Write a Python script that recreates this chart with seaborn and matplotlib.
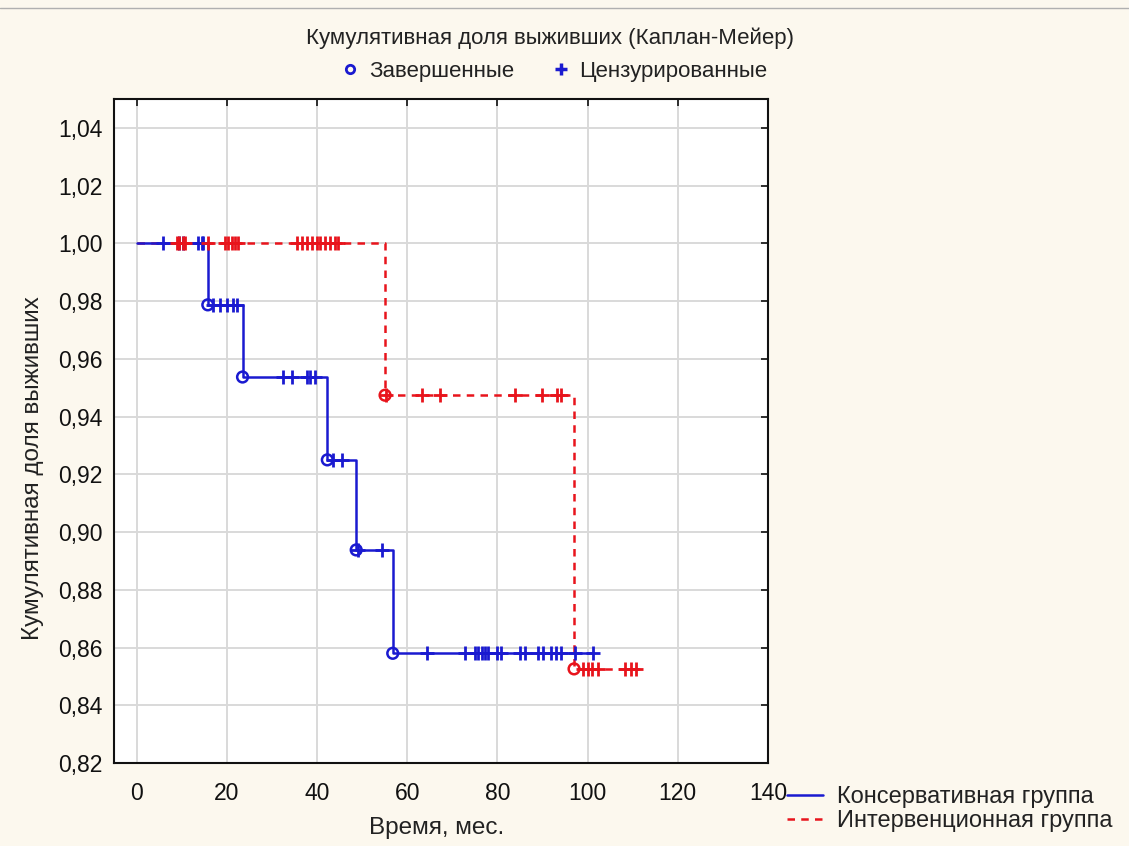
import matplotlib
matplotlib.use("Agg")
import matplotlib.pyplot as plt
from matplotlib.lines import Line2D
from matplotlib.ticker import FuncFormatter, MultipleLocator
import numpy as np
import seaborn as sns

# DATA (months, cumulative survival)
blue_event_t = [15.8, 23.5, 42.3, 48.7, 56.8]
blue_event_s = [0.9787, 0.9537, 0.9250, 0.8938, 0.8580]
blue_end = 101.3
blue_cens = [5.9, 9.5, 10.2, 13.6, 14.4, 14.7, 16.9, 18.4, 20.0, 21.3, 22.2,
             32.4, 34.4, 37.8, 38.4, 39.6, 43.6, 45.6, 49.0, 54.4, 64.4,
             72.9, 75.1, 75.8, 76.7, 77.3, 78.0, 80.0, 80.7, 85.1, 86.2,
             89.1, 90.2, 91.8, 92.9, 94.0, 97.3, 101.3]

red_event_t = [55.1, 97.0]
red_event_s = [0.9474, 0.8526]
red_end = 111.8
red_cens = [8.9, 9.5, 10.2, 10.7, 15.8, 19.6, 20.2, 21.1, 21.8, 22.4,
            35.6, 36.7, 37.8, 38.9, 40.0, 40.7, 41.8, 42.9, 44.0, 44.7,
            55.3, 63.3, 67.3, 84.0, 90.0, 93.3, 94.0,
            98.9, 100.0, 101.0, 102.2, 108.4, 109.6, 110.7]

group_names = ["Консервативная группа", "Интервенционная группа"]
title = "Кумулятивная доля выживших (Каплан-Мейер)"
marker_names = ["Завершенные", "Цензурированные"]

BLUE = "#1a1ad0"
RED = "#e8141c"
BG = "#fcf8ee"

sns.set_style("white")
plt.rcParams["font.family"] = ["Liberation Sans", "DejaVu Sans"]


def step_xy(ev_t, ev_s, end):
    xs = [0.0] + list(ev_t) + [end]
    ys = [1.0] + list(ev_s) + [ev_s[-1]]
    return xs, ys


def surv_at(t, ev_t, ev_s):
    levels = np.r_[1.0, ev_s]
    return levels[np.searchsorted(ev_t, t, side="right")]


fig = plt.figure(figsize=(11.29, 8.46), dpi=100, facecolor=BG)
ax = fig.add_axes([114 / 1129, 1 - 763 / 846, (768 - 114) / 1129, (763 - 99) / 846])
ax.set_facecolor("white")

#STEP LINES
rx, ry = step_xy(red_event_t, red_event_s, red_end)
sns.lineplot(x=rx, y=ry, drawstyle="steps-post", estimator=None, sort=False,
             color=RED, linewidth=1.8, linestyle=(0, (3, 2.5)), ax=ax)
bx, by = step_xy(blue_event_t, blue_event_s, blue_end)
sns.lineplot(x=bx, y=by, drawstyle="steps-post", estimator=None, sort=False,
             color=BLUE, linewidth=1.8, ax=ax)

#EVENT AND CENSORED MARKS
for ev_t, ev_s, cens, c in [(blue_event_t, blue_event_s, blue_cens, BLUE),
                            (red_event_t, red_event_s, red_cens, RED)]:
    sns.scatterplot(x=ev_t, y=ev_s, marker="o", s=60, color=c,
                    facecolor="none", edgecolor=c, linewidth=1.8, ax=ax, zorder=4)
    cy = surv_at(np.array(cens), np.array(ev_t), np.array(ev_s))
    sns.scatterplot(x=cens, y=cy, marker="+", s=110, color=c,
                    linewidth=2.0, ax=ax, zorder=4)

#AXES
ax.set_xlim(-5, 140)
ax.set_ylim(0.82, 1.05)
ax.xaxis.set_major_locator(MultipleLocator(20))
ax.yaxis.set_major_locator(MultipleLocator(0.02))
ax.yaxis.set_major_formatter(FuncFormatter(lambda v, p: f"{v:.2f}".replace(".", ",")))
ax.grid(True, color="#d9d9d9", linewidth=1.4)
ax.tick_params(direction="in", top=True, right=True, length=5, width=1.2,
               labelsize=16.5, colors="#111111", pad=8)
ax.tick_params(axis="x", pad=14)
for sp in ax.spines.values():
    sp.set_color("#111111")
    sp.set_linewidth(1.5)
ax.set_xlabel("Время, мес.", fontsize=17.5, color="#222222")
ax.set_ylabel("Кумулятивная доля выживших", fontsize=17.5, color="#222222")
ax.yaxis.set_label_coords(-(114 - 44) / 654, (763 - 468) / 664)
ax.xaxis.set_label_coords((437 - 114) / 654, -(817 - 763) / 664)

#TITLE AND TOP LEGEND
fig.text(0.487, 1 - 38 / 846, title, ha="center", va="center", fontsize=16, color="#222222")
top_handles = [Line2D([], [], marker="o", ls="none", mfc="none", mec=BLUE, mew=2, ms=6),
               Line2D([], [], marker="+", ls="none", color=BLUE, mew=2.5, ms=8)]
fig.legend(top_handles, marker_names, loc="center", bbox_to_anchor=(0.49, 1 - 71 / 846),
           ncol=2, frameon=False, fontsize=16, handlelength=1.0, handletextpad=0.35,
           columnspacing=1.6, labelcolor="#222222")

#GROUP LEGEND
grp_handles = [Line2D([], [], color=BLUE, lw=1.8),
               Line2D([], [], color=RED, lw=1.8, ls=(0, (3, 2.5)))]
fig.legend(grp_handles, group_names, loc="center left", bbox_to_anchor=(766 / 1129, 1 - 809 / 846),
           frameon=False, fontsize=17, handlelength=1.5, handletextpad=0.6,
           labelspacing=0.1, labelcolor="#222222")

fig.add_artist(Line2D([0, 1], [1 - 8 / 846, 1 - 8 / 846], color="#b0b0b0", lw=1))

fig.savefig("out.png", dpi=100, facecolor=BG)
